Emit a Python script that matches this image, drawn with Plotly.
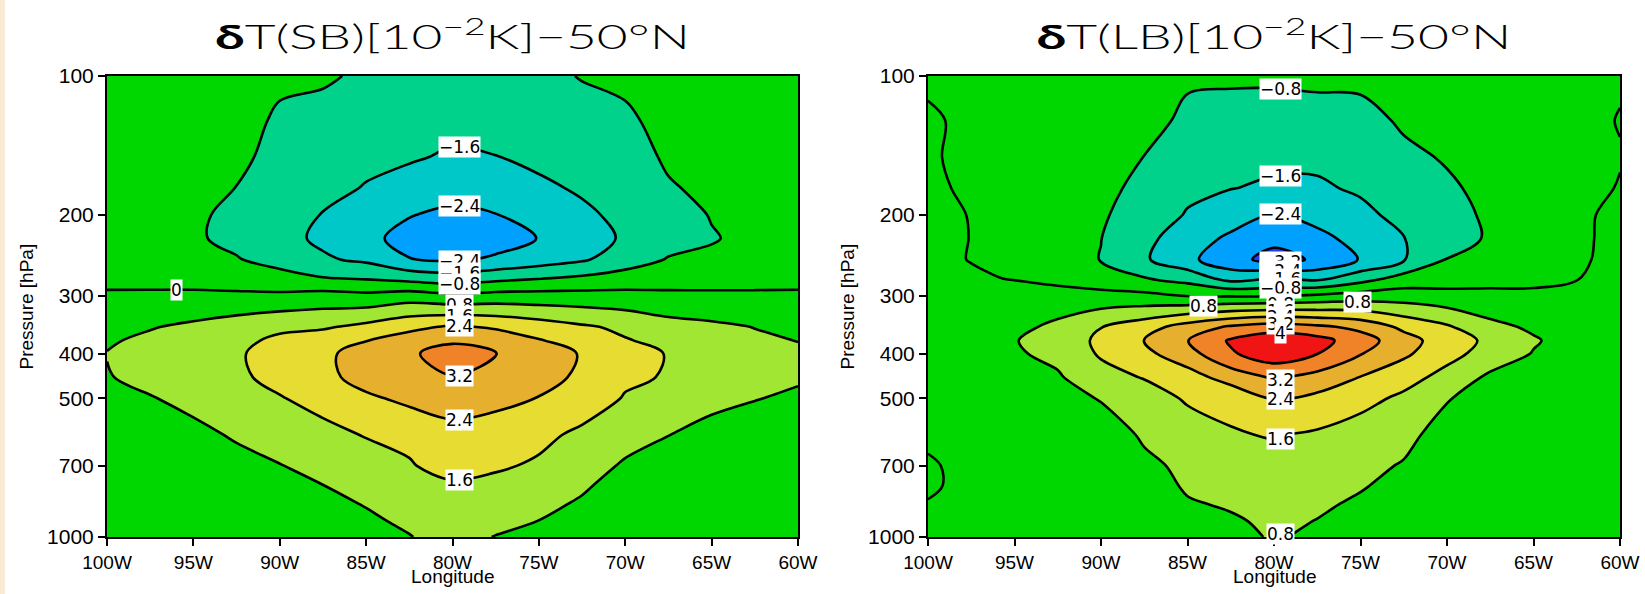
import numpy as np
import plotly.graph_objects as go

# ---------------- data ----------------
LON = [-100, -97.5, -95, -92.5, -90, -87.5, -85, -82.5, -80, -77.5, -75, -72.5, -70, -67.5, -65, -62.5, -60]
PRESSURE = [100, 125, 150, 175, 200, 225, 250, 275, 300, 350, 375, 400, 450, 500, 600, 700, 775, 850, 925, 1000]

# dT(SB) [1e-2 K] at 50N, one list per longitude, from 100 hPa down to 1000 hPa
sb_100w  = [-0.20, -0.30, -0.35, -0.40, -0.45, -0.45, -0.35, -0.15, 0.08, 0.55, 0.72, 0.82, 0.76, 0.60, 0.42, 0.32, 0.27, 0.25, 0.25, 0.30]
sb_97p5w = [-0.25, -0.35, -0.42, -0.50, -0.55, -0.55, -0.42, -0.18, 0.10, 0.75, 0.95, 1.05, 1.00, 0.76, 0.55, 0.42, 0.36, 0.32, 0.30, 0.30]
sb_95w   = [-0.30, -0.40, -0.50, -0.60, -0.68, -0.70, -0.55, -0.22, 0.12, 0.95, 1.20, 1.30, 1.25, 1.00, 0.62, 0.48, 0.40, 0.35, 0.32, 0.32]
sb_92p5w = [-0.35, -0.60, -0.65, -0.81, -0.97, -1.00, -0.75, -0.30, 0.12, 1.20, 1.42, 1.50, 1.45, 1.25, 0.88, 0.58, 0.48, 0.42, 0.38, 0.36]
sb_90w   = [-0.70, -0.88, -1.02, -1.15, -1.30, -1.35, -1.10, -0.50, 0.15, 1.45, 1.75, 1.95, 1.85, 1.55, 1.10, 0.78, 0.60, 0.50, 0.45, 0.42]
sb_87p5w = [-0.72, -1.00, -1.15, -1.35, -1.63, -1.75, -1.50, -0.75, 0.30, 1.50, 2.00, 2.20, 2.15, 1.90, 1.35, 1.00, 0.79, 0.68, 0.60, 0.55]
sb_85w   = [-0.90, -1.20, -1.40, -1.65, -2.00, -2.25, -1.75, -0.85, 0.20, 1.80, 2.38, 2.80, 2.75, 2.25, 1.65, 1.20, 0.95, 0.82, 0.72, 0.65]
sb_82p5w = [-1.00, -1.30, -1.52, -1.90, -2.37, -2.60, -2.38, -1.05, 0.40, 2.20, 2.75, 3.10, 3.05, 2.60, 1.75, 1.55, 1.20, 1.00, 0.88, 0.78]
sb_80w   = [-1.10, -1.35, -1.70, -2.10, -2.55, -3.00, -2.50, -1.20, 0.15, 2.50, 3.10, 3.50, 3.18, 2.75, 2.15, 1.85, 1.50, 1.25, 1.10, 1.00]
sb_77p5w = [-1.05, -1.30, -1.62, -2.00, -2.42, -2.70, -2.30, -1.00, 0.30, 2.30, 2.85, 3.21, 3.00, 2.60, 2.05, 1.70, 1.40, 1.15, 0.95, 0.78]
sb_75w   = [-0.90, -1.15, -1.42, -1.75, -2.10, -2.38, -2.00, -0.82, 0.30, 2.00, 2.45, 2.75, 2.60, 2.38, 1.78, 1.50, 1.20, 0.95, 0.79, 0.70]
sb_72p5w = [-0.78, -0.95, -1.20, -1.50, -1.75, -1.95, -1.70, -0.65, 0.30, 1.70, 2.10, 2.35, 2.30, 2.00, 1.45, 1.10, 0.88, 0.72, 0.62, 0.55]
sb_70w   = [-0.70, -0.88, -1.05, -1.22, -1.40, -1.50, -1.20, -0.45, 0.25, 1.45, 1.65, 1.75, 1.72, 1.55, 1.05, 0.72, 0.55, 0.45, 0.40, 0.35]
sb_67p5w = [-0.55, -0.65, -0.72, -0.85, -1.05, -1.10, -0.75, -0.30, 0.15, 1.10, 1.40, 1.58, 1.55, 1.30, 0.81, 0.55, 0.42, 0.35, 0.30, 0.28]
sb_65w   = [-0.45, -0.52, -0.60, -0.68, -0.77, -0.84, -0.70, -0.25, 0.12, 0.95, 1.12, 1.22, 1.15, 0.95, 0.62, 0.45, 0.36, 0.30, 0.26, 0.25]
sb_62p5w = [-0.40, -0.45, -0.50, -0.58, -0.63, -0.65, -0.50, -0.20, 0.10, 0.78, 0.93, 1.00, 0.95, 0.82, 0.55, 0.42, 0.35, 0.30, 0.26, 0.25]
sb_60w   = [-0.35, -0.40, -0.45, -0.50, -0.55, -0.55, -0.42, -0.18, 0.10, 0.65, 0.79, 0.88, 0.86, 0.72, 0.50, 0.38, 0.32, 0.28, 0.25, 0.25]

# dT(LB) [1e-2 K] at 50N
lb_100w  = [-0.10, 0.08, 0.12, 0.15, 0.15, 0.15, 0.15, 0.15, 0.20, 0.35, 0.38, 0.36, 0.30, 0.20, 0.08, -0.05, -0.05, 0.02, 0.05, 0.05]
lb_97p5w = [-0.15, -0.12, -0.25, -0.13, -0.02, -0.01, -0.02, 0.08, 0.30, 0.55, 0.62, 0.58, 0.50, 0.35, 0.20, 0.12, 0.10, 0.10, 0.10, 0.10]
lb_95w   = [-0.20, -0.30, -0.35, -0.38, -0.35, -0.30, -0.25, -0.03, 0.30, 0.62, 0.77, 0.72, 0.60, 0.42, 0.22, 0.15, 0.12, 0.12, 0.12, 0.12]
lb_92p5w = [-0.25, -0.35, -0.42, -0.50, -0.55, -0.60, -0.58, -0.25, 0.35, 0.95, 1.08, 0.98, 0.72, 0.50, 0.28, 0.20, 0.16, 0.15, 0.15, 0.15]
lb_90w   = [-0.30, -0.40, -0.50, -0.60, -0.70, -0.79, -0.82, -0.45, 0.25, 1.58, 1.78, 1.70, 1.30, 0.85, 0.40, 0.25, 0.20, 0.18, 0.18, 0.18]
lb_87p5w = [-0.45, -0.60, -0.81, -1.00, -1.20, -1.40, -1.50, -0.75, 0.20, 2.05, 2.42, 2.20, 1.65, 1.20, 0.90, 0.65, 0.40, 0.28, 0.25, 0.25]
lb_85w   = [-0.72, -0.92, -1.20, -1.45, -1.65, -2.00, -2.20, -1.10, -0.02, 2.75, 3.18, 2.90, 2.05, 1.70, 1.20, 0.95, 0.90, 0.72, 0.50, 0.45]
lb_82p5w = [-0.70, -1.05, -1.35, -1.58, -2.00, -2.55, -2.95, -1.90, -0.05, 3.30, 4.10, 3.90, 2.76, 1.80, 1.54, 1.20, 1.00, 0.88, 0.70, 0.65]
lb_80w   = [-0.65, -1.20, -1.45, -1.70, -2.42, -3.00, -3.45, -1.62, -0.05, 3.60, 4.55, 4.50, 3.30, 2.42, 1.65, 1.30, 1.15, 1.00, 0.95, 0.85]
lb_77p5w = [-0.60, -1.15, -1.45, -1.70, -2.15, -2.60, -3.10, -1.80, 0.15, 3.35, 4.30, 4.02, 2.95, 2.20, 1.50, 1.15, 1.00, 0.90, 0.78, 0.70]
lb_75w   = [-0.62, -1.05, -1.30, -1.50, -1.78, -2.15, -2.35, -1.15, 0.34, 3.00, 3.55, 3.25, 2.38, 1.85, 1.25, 0.98, 0.85, 0.70, 0.62, 0.58]
lb_72p5w = [-0.55, -0.70, -0.95, -1.15, -1.38, -1.62, -1.65, -0.50, 0.40, 2.20, 2.75, 2.55, 1.90, 1.45, 1.00, 0.75, 0.60, 0.50, 0.45, 0.42]
lb_70w   = [-0.45, -0.55, -0.74, -0.90, -1.05, -1.10, -0.78, -0.35, 0.25, 1.70, 1.95, 1.85, 1.35, 0.85, 0.50, 0.35, 0.28, 0.25, 0.22, 0.20]
lb_67p5w = [-0.40, -0.48, -0.55, -0.62, -0.68, -0.72, -0.60, -0.25, 0.20, 1.00, 1.45, 1.30, 0.65, 0.45, 0.30, 0.22, 0.20, 0.18, 0.17, 0.16]
lb_65w   = [-0.35, -0.38, -0.42, -0.45, -0.48, -0.50, -0.42, -0.18, 0.15, 0.68, 0.88, 0.76, 0.40, 0.30, 0.20, 0.15, 0.13, 0.12, 0.12, 0.12]
lb_62p5w = [-0.25, -0.28, -0.30, -0.30, -0.28, -0.25, -0.18, -0.02, 0.12, 0.35, 0.45, 0.40, 0.30, 0.22, 0.15, 0.12, 0.10, 0.10, 0.10, 0.10]
lb_60w   = [-0.10, 0.04, -0.05, 0.05, 0.35, 0.37, 0.35, 0.30, 0.30, 0.30, 0.30, 0.28, 0.25, 0.20, 0.15, 0.12, 0.10, 0.10, 0.10, 0.10]

SB_COLUMNS = [sb_100w, sb_97p5w, sb_95w, sb_92p5w, sb_90w, sb_87p5w, sb_85w, sb_82p5w, sb_80w,
              sb_77p5w, sb_75w, sb_72p5w, sb_70w, sb_67p5w, sb_65w, sb_62p5w, sb_60w]
LB_COLUMNS = [lb_100w, lb_97p5w, lb_95w, lb_92p5w, lb_90w, lb_87p5w, lb_85w, lb_82p5w, lb_80w,
              lb_77p5w, lb_75w, lb_72p5w, lb_70w, lb_67p5w, lb_65w, lb_62p5w, lb_60w]

XTICK_VALS = [-100, -95, -90, -85, -80, -75, -70, -65, -60]
XTICK_TEXT = ["100W", "95W", "90W", "85W", "80W", "75W", "70W", "65W", "60W"]
YTICK_VALS = [100, 200, 300, 400, 500, 700, 1000]
YTICK_TEXT = ["100", "200", "300", "400", "500", "700", "1000"]

LEVEL_START, LEVEL_END, LEVEL_STEP = -3.2, 4.0, 0.8
BAND_COLORS = ["rgb(30,60,255)", "rgb(0,160,255)", "rgb(0,200,200)", "rgb(0,210,140)",
               "rgb(0,215,0)", "rgb(0,215,0)", "rgb(160,230,50)", "rgb(230,220,50)",
               "rgb(230,175,45)", "rgb(240,130,40)", "rgb(240,20,20)"]

TITLES = ["<b>δ</b>T(SB)[10<sup>−2</sup>K]−50°N", "<b>δ</b>T(LB)[10<sup>−2</sup>K]−50°N"]

# contour labels: (level, column longitude, occurrence from top, label x)
SB_LABELS = [(-1.6, -80, 0, -79.6), (-2.4, -80, 0, -79.6), (-2.4, -80, 1, -79.6), (-1.6, -80, 1, -79.6),
             (-0.8, -80, 0, -79.6), (0.8, -80, 0, -79.6), (1.6, -80, 0, -79.6), (2.4, -80, 0, -79.6),
             (3.2, -80, 1, -79.6), (2.4, -80, 1, -79.6), (1.6, -80, 1, -79.6), (0.0, -97.5, 0, -96.0)]
LB_LABELS = [(-0.8, -80, 0, -79.6), (-1.6, -80, 0, -79.6), (-2.4, -80, 0, -79.6), (-3.2, -80, 1, -79.6),
             (-2.4, -80, 1, -79.6), (-1.6, -80, 1, -79.6), (-0.8, -80, 1, -79.6),
             (0.8, -85, 0, -84.1), (0.8, -75, 0, -75.15),
             (0.8, -80, 0, -79.6), (1.6, -80, 0, -79.6), (2.4, -80, 0, -79.6), (3.2, -80, 0, -79.6),
             (4.0, -80, 0, -79.6), (3.2, -80, 1, -79.6), (2.4, -80, 1, -79.6), (1.6, -80, 1, -79.6)]
LB_EDGE_LABELS = [(0.8, -79.6, 985)]

# ---------------- figure ----------------
W, H = 1645, 594
PLOT_TOP, PLOT_BOTTOM = 76, 537
PANELS_X = [(107, 798), (928, 1620)]
TITLE_WIDTH_PX = 475

nc = int(round((LEVEL_END - LEVEL_START) / LEVEL_STEP)) + 1
colorscale = [[j / nc, BAND_COLORS[j]] for j in range(nc + 1)]


def fmt(v):
    s = "%g" % round(abs(v), 1)
    return ("−" + s) if v < -1e-9 else s


def crossings(col, level):
    out = []
    for k in range(len(PRESSURE) - 1):
        a, b = col[k], col[k + 1]
        if (a - level) * (b - level) < 0:
            f = (level - a) / (b - a)
            out.append(PRESSURE[k] + f * (PRESSURE[k + 1] - PRESSURE[k]))
    return out


fig = go.Figure()
annotations = []
label_font = dict(family="DejaVu Sans", size=17, color="black")

for i, (cols, labels) in enumerate([(SB_COLUMNS, SB_LABELS), (LB_COLUMNS, LB_LABELS)]):
    xa = "x" if i == 0 else "x2"
    ya = "y" if i == 0 else "y2"
    z = np.array(cols).T
    fig.add_trace(go.Contour(
        x=LON, y=PRESSURE, z=z, xaxis=xa, yaxis=ya,
        autocontour=False,
        contours=dict(start=LEVEL_START, end=LEVEL_END, size=LEVEL_STEP,
                      coloring="fill", showlines=True),
        colorscale=colorscale, showscale=False,
        line=dict(color="black", width=2.6, smoothing=1),
        hoverinfo="skip",
    ))
    for level, col_lon, occ, lx in labels:
        col = cols[LON.index(col_lon)]
        cr = crossings(col, level)
        if occ < len(cr):
            annotations.append(dict(x=lx, y=float(np.log10(cr[occ])), xref=xa, yref=ya,
                                    text=fmt(level), showarrow=False, bgcolor="white",
                                    borderpad=0, font=label_font))
    if i == 1:
        for level, lx, p in LB_EDGE_LABELS:
            annotations.append(dict(x=lx, y=float(np.log10(p)), xref=xa, yref=ya,
                                    text=fmt(level), showarrow=False, bgcolor="white",
                                    borderpad=0, font=label_font))

# titles first (indices 0 and 1, widened by the post script)
title_ann = []
for i, t in enumerate(TITLES):
    x0, x1 = PANELS_X[i]
    title_ann.append(dict(x=(x0 + x1) / 2 / W, y=1 - 34 / H, xref="paper", yref="paper",
                          text=t, showarrow=False, xanchor="center", yanchor="middle",
                          font=dict(family="Lato, DejaVu Sans", size=33, weight=300, color="black")))
other_ann = []
for i in range(2):
    x0, x1 = PANELS_X[i]
    other_ann.append(dict(x=(x0 - 81) / W, y=1 - ((PLOT_TOP + PLOT_BOTTOM) / 2) / H,
                          xref="paper", yref="paper", text="Pressure [hPa]", textangle=-90,
                          showarrow=False, xanchor="center", yanchor="middle",
                          font=dict(family="Liberation Sans", size=19, color="black")))
    other_ann.append(dict(x=(x0 + x1) / 2 / W, y=1 - 576 / H, xref="paper", yref="paper",
                          text="Longitude", showarrow=False, xanchor="center", yanchor="middle",
                          font=dict(family="Liberation Sans", size=19, color="black")))

xaxis_common = dict(range=[-100, -60], tickmode="array", tickvals=XTICK_VALS, ticktext=XTICK_TEXT,
                    ticks="outside", ticklen=7, tickwidth=1.5, tickcolor="black",
                    showline=True, linecolor="black", linewidth=2, mirror=True,
                    showgrid=False, zeroline=False, layer="above traces", automargin=False,
                    tickfont=dict(family="Liberation Sans", size=19, color="black"))
yaxis_common = dict(type="log", range=[3, 2], tickmode="array", tickvals=YTICK_VALS, ticktext=YTICK_TEXT,
                    ticks="outside", ticklen=7, tickwidth=1.5, tickcolor="black",
                    showline=True, linecolor="black", linewidth=2, mirror=True,
                    showgrid=False, zeroline=False, layer="above traces", automargin=False,
                    tickfont=dict(family="Liberation Sans", size=21, color="black"),
                    domain=[1 - PLOT_BOTTOM / H, 1 - PLOT_TOP / H])

fig.update_layout(
    width=W, height=H, autosize=False,
    margin=dict(l=0, r=0, t=0, b=0, pad=0, autoexpand=False),
    paper_bgcolor="white", plot_bgcolor="white",
    showlegend=False,
    xaxis=dict(domain=[PANELS_X[0][0] / W, PANELS_X[0][1] / W], anchor="y", **xaxis_common),
    xaxis2=dict(domain=[PANELS_X[1][0] / W, PANELS_X[1][1] / W], anchor="y2", **xaxis_common),
    yaxis=dict(anchor="x", **yaxis_common),
    yaxis2=dict(anchor="x2", **yaxis_common),
    annotations=title_ann + other_ann + annotations,
    shapes=[dict(type="rect", xref="paper", yref="paper", x0=0, x1=5 / W, y0=0, y1=1,
                 fillcolor="#FAEAD5", line=dict(width=0), layer="below")],
)

POST = """
(function(){
  var gd = document.getElementById('{plot_id}');
  if(!gd) return;
  ['0','1'].forEach(function(i){
    var t = gd.querySelector('g.annotation[data-index="' + i + '"] text.annotation-text');
    if(!t) return;
    var w = t.getBBox().width;
    if(!(w > 0)) return;
    var s = %d / w;
    t.style.transformBox = 'fill-box';
    t.style.transformOrigin = '50%% 50%%';
    t.style.transform = 'scaleX(' + s + ')';
  });
})();
""" % TITLE_WIDTH_PX

fig.write_html("out.html", post_script=POST)
